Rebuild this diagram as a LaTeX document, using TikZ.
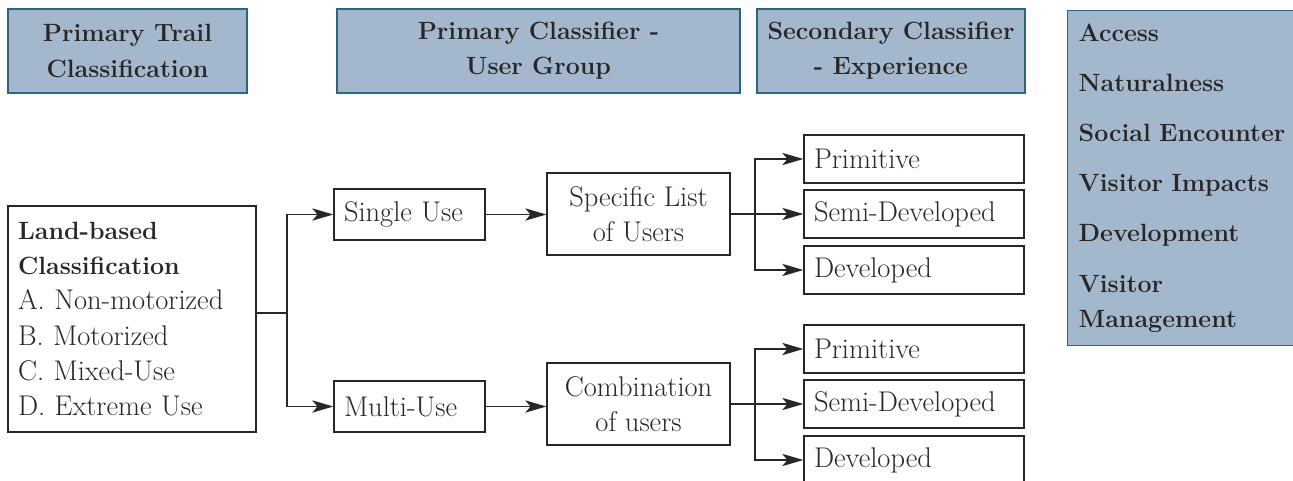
\documentclass[tikz,border=0pt]{standalone}
\usepackage{tikz}
\usetikzlibrary{positioning, arrows.meta}
\definecolor{hdrfill}{RGB}{163,184,204}
\definecolor{hdrline}{RGB}{45,100,130}
\definecolor{inkgray}{RGB}{40,38,39}
\tikzstyle{header} = [rectangle, minimum width=4.78cm, minimum height=1.68cm, text centered, align=center, draw=hdrline, line width=0.8pt, fill=hdrfill, font=\fontsize{14.2}{20}\selectfont\bfseries, text=inkgray]
\tikzstyle{plainbox} = [rectangle, minimum height=0.96cm, draw=inkgray, line width=0.8pt, fill=white, font=\fontsize{16.2}{20}\selectfont, text=inkgray]
\tikzstyle{leftbox} = [plainbox, align=left, inner xsep=0.2cm]
\tikzstyle{levelbox} = [leftbox, text width=4.0cm]
\tikzstyle{arrow} = [line width=0.8pt, draw=inkgray, -{Stealth[length=12pt, width=7pt, inset=3pt]}]
\tikzstyle{link} = [line width=0.8pt, draw=inkgray]

\begin{document}
\begin{tikzpicture}[x=0.02cm, y=-0.02cm]
\clip (0,0) rectangle (1293,480);

% headers
\node (hprimary) [header] at (127.5,51) {Primary Trail\\Classification};
\node (hgroup) [header, minimum width=8.06cm] at (538.5,51) {Primary Classifier -\\User Group};
\node (hexper) [header, minimum width=5.36cm] at (891,51) {Secondary Classifier\\- Experience};
\node (criteria) [header, anchor=north west, minimum width=4.7cm, minimum height=6.7cm, text width=4.26cm, align=left, inner xsep=0.2cm] at (1067,10)
  {Access\\[8.5pt] Naturalness\\[8.5pt] Social Encounter\\[8.5pt] Visitor Impacts\\[8.5pt] Development\\[8.5pt] Visitor\\Management};

% land-based classification
\node (land) [leftbox, minimum width=4.96cm, minimum height=4.52cm, text width=4.56cm] at (132,319)
  {{\fontsize{14.2}{20}\selectfont\bfseries Land-based}\\{\fontsize{14.2}{20}\selectfont\bfseries Classification}\\A. Non-motorized\\B. Motorized\\C. Mixed-Use\\D. Extreme Use};

% user groups
\node (single) [leftbox, minimum width=3.02cm, minimum height=1.02cm, text width=2.62cm] at (409.5,214.5) {Single Use};
\node (multi) [leftbox, minimum width=3.02cm, minimum height=1.02cm, text width=2.62cm] at (409.5,406.5) {Multi-Use};

\node (specific) [plainbox, minimum width=3.66cm, minimum height=1.64cm, align=center] at (638.5,214) {Specific List\\of Users};
\node (combo) [plainbox, minimum width=3.66cm, minimum height=1.64cm, align=center] at (638.5,404) {Combination\\of users};

% experience levels
\node (prim1) [levelbox, minimum width=4.4cm] at (914,159) {Primitive};
\node (semi1) [levelbox, minimum width=4.4cm] at (914,214) {Semi-Developed};
\node (dev1) [levelbox, minimum width=4.4cm] at (914,270) {Developed};
\node (prim2) [levelbox, minimum width=4.4cm] at (914,349) {Primitive};
\node (semi2) [levelbox, minimum width=4.4cm] at (914,404) {Semi-Developed};
\node (dev2) [levelbox, minimum width=4.4cm] at (914,460) {Developed};

\coordinate (fork1) at (287,313);
\coordinate (fork2) at (755,214);
\coordinate (fork3) at (755,404);

\draw [link] (land.east |- fork1) -- (fork1);
\draw [arrow] (fork1) |- (single.west);
\draw [arrow] (fork1) |- (multi.west);

\draw [arrow] (single.east) -- (single.east -| specific.west);
\draw [arrow] (multi.east) -- (multi.east -| combo.west);

\draw [link] (specific.east) -- (fork2);
\draw [arrow] (fork2) |- (prim1.west);
\draw [arrow] (fork2) -- (semi1.west);
\draw [arrow] (fork2) |- (dev1.west);

\draw [link] (combo.east) -- (fork3);
\draw [arrow] (fork3) |- (prim2.west);
\draw [arrow] (fork3) -- (semi2.west);
\draw [arrow] (fork3) |- (dev2.west);

\end{tikzpicture}
\end{document}
